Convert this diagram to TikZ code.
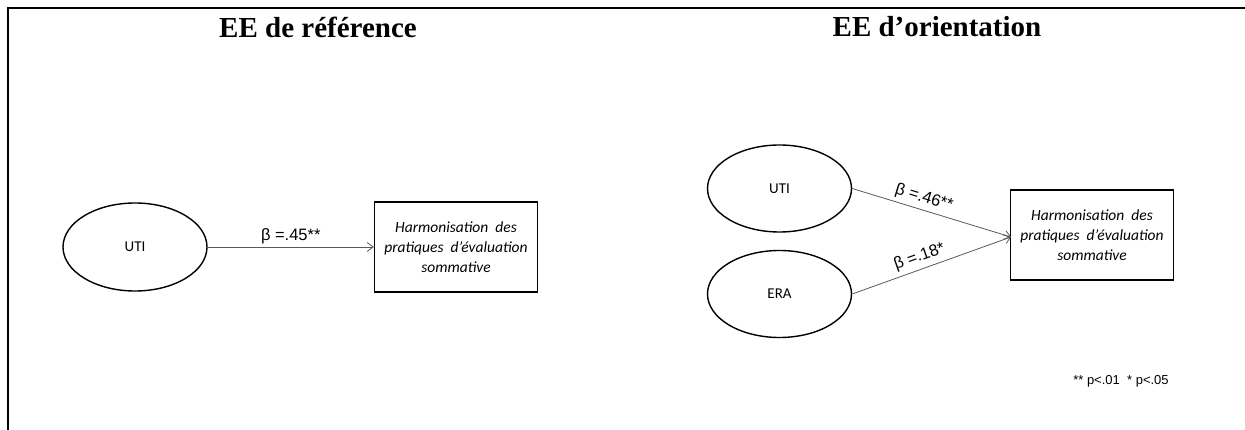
\documentclass[tikz,border=0pt]{standalone}
\usepackage{fontspec}
\setmainfont{Liberation Serif}
\newfontfamily\calfont{Carlito}
\newfontfamily\arifont{Liberation Sans}
\usetikzlibrary{shapes.geometric,arrows.meta}
\begin{document}
\begin{tikzpicture}[x=1pt,y=-1pt,
  lat/.style={ellipse,draw,line width=1.4pt,minimum width=144pt,minimum height=88pt,inner sep=0pt,font=\calfont\fontsize{15}{17}\selectfont},
  obs/.style={draw,line width=1.4pt,minimum width=163pt,minimum height=90pt,inner sep=0pt,align=center,font=\calfont\itshape\fontsize{15.5}{20}\selectfont},
  path/.style={draw=black!65,line width=0.8pt,-{Straight Barb[length=6pt,width=9pt]}},
  coef/.style={font=\arifont\fontsize{16.5}{18}\selectfont,inner sep=1pt},
  ttl/.style={font=\bfseries\fontsize{29}{32}\selectfont}]
\useasboundingbox (0,0) rectangle (1245,430);
\draw[line width=2pt] (8,430) -- (8,8) -- (1245,8);
\node[ttl] (t1) at (318,27) {EE de référence};
\node[ttl] (t2) at (937,27) {EE d’orientation};
% left model
\node[lat] (uti1) at (135,247) {UTI};
\node[obs] (h1) at (456,247) {Harmonisation\ \ des\\pratiques\ \ d’évaluation\\sommative};
\draw[path] (uti1.east) -- (h1.west) node[coef,midway,above=2pt] {β =.45**};
% right model
\node[lat,minimum height=87pt] (uti2) at (779.5,188.5) {UTI};
\node[lat,minimum height=87pt] (era) at (779.5,294) {ERA};
\node[obs] (h2) at (1092,235) {Harmonisation\ \ des\\pratiques\ \ d’évaluation\\sommative};
\coordinate (tip) at (1011,237);
\draw[path] (uti2.east) -- (tip) node[coef,pos=0.43,above=3pt,sloped] {β =.46**};
\draw[path] (era.east) -- (tip) node[coef,pos=0.45,above=3pt,sloped] {β =.18*};
\node[font=\arifont\fontsize{13}{15}\selectfont] (note) at (1121,381) {** p<.01\ \ * p<.05};
\end{tikzpicture}
\end{document}
